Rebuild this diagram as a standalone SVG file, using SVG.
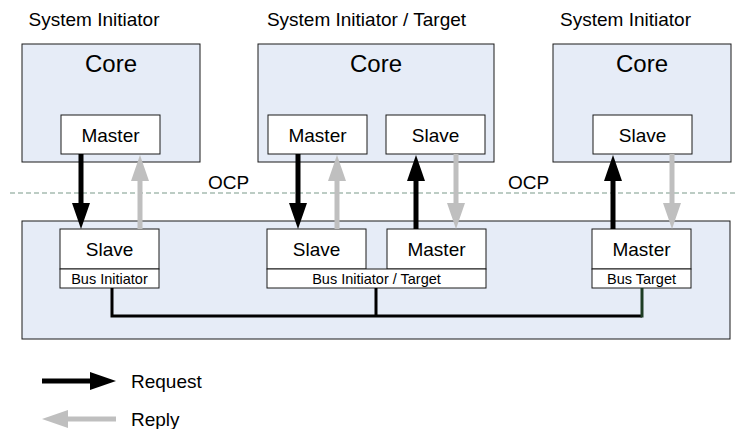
<svg xmlns="http://www.w3.org/2000/svg" width="736" height="429" viewBox="0 0 736 429">
  <style>
    .panel { fill: #e6ecf7; stroke: #1a1a1a; stroke-width: 1; }
    .box { fill: #ffffff; stroke: #1a1a1a; stroke-width: 1; }
    .t { font-family: "Liberation Sans", Arial, sans-serif; fill: #000; }
    .title { font-size: 19px; }
    .core { font-size: 24px; text-anchor: middle; }
    .lbl { font-size: 19px; text-anchor: middle; }
    .sub { font-size: 14.5px; text-anchor: middle; }
    .req { stroke: #000; stroke-width: 5; fill: none; marker-end: url(#headReq); }
    .rep { stroke: #bfbfbf; stroke-width: 5; fill: none; marker-end: url(#headRep); }
    .bus { stroke: #000; stroke-width: 3; fill: none; }
  </style>
  <defs>
    <marker id="headReq" viewBox="0 0 26 18" refX="0" refY="9" markerWidth="26" markerHeight="18" markerUnits="userSpaceOnUse" orient="auto">
      <path d="M0,0 L26,9 L0,18 Z" fill="#000"/>
    </marker>
    <marker id="headRep" viewBox="0 0 26 18" refX="0" refY="9" markerWidth="26" markerHeight="18" markerUnits="userSpaceOnUse" orient="auto">
      <path d="M0,0 L26,9 L0,18 Z" fill="#bfbfbf"/>
    </marker>
  </defs>

  <rect width="736" height="429" fill="#ffffff"/>

  <!-- OCP boundary -->
  <g id="ocp-boundary">
    <line x1="10" y1="193" x2="736" y2="193" stroke="#7b9a8a" stroke-width="1.2" stroke-dasharray="5,3"/>
    <text class="t title" x="208" y="189">OCP</text>
    <text class="t title" x="508" y="189">OCP</text>
  </g>

  <!-- Core 1: system initiator -->
  <g id="core-initiator">
    <text class="t title" x="94" y="26" text-anchor="middle">System Initiator</text>
    <rect class="panel" x="22" y="44" width="178" height="118"/>
    <text class="t core" x="111" y="72">Core</text>
    <rect class="box" x="61" y="115" width="99" height="39"/>
    <text class="t lbl" x="110.5" y="141.5">Master</text>
  </g>

  <!-- Core 2: system initiator / target -->
  <g id="core-initiator-target">
    <text class="t title" x="366.5" y="26" text-anchor="middle">System Initiator / Target</text>
    <rect class="panel" x="258" y="44" width="236" height="118"/>
    <text class="t core" x="376" y="72">Core</text>
    <rect class="box" x="268" y="115" width="99" height="39"/>
    <text class="t lbl" x="317.5" y="141.5">Master</text>
    <rect class="box" x="386" y="115" width="99" height="39"/>
    <text class="t lbl" x="435.5" y="141.5">Slave</text>
  </g>

  <!-- Core 3 -->
  <g id="core-target">
    <text class="t title" x="625.5" y="26" text-anchor="middle">System Initiator</text>
    <rect class="panel" x="553" y="44" width="178" height="118"/>
    <text class="t core" x="642" y="72">Core</text>
    <rect class="box" x="593" y="115" width="99" height="39"/>
    <text class="t lbl" x="642.5" y="141.5">Slave</text>
  </g>

  <!-- Bus -->
  <g id="bus">
    <rect class="panel" x="22" y="221" width="708" height="118"/>
  </g>

  <g id="bus-initiator">
    <rect class="box" x="60" y="229" width="99" height="40"/>
    <text class="t lbl" x="109.5" y="256">Slave</text>
    <rect class="box" x="60" y="269" width="99" height="19"/>
    <text class="t sub" x="109.5" y="283.5">Bus Initiator</text>
  </g>

  <g id="bus-initiator-target">
    <rect class="box" x="267" y="229" width="99" height="40"/>
    <text class="t lbl" x="316.5" y="256">Slave</text>
    <rect class="box" x="387" y="229" width="99" height="40"/>
    <text class="t lbl" x="436.5" y="256">Master</text>
    <rect class="box" x="267" y="269" width="219" height="19"/>
    <text class="t sub" x="376.5" y="283.5">Bus Initiator / Target</text>
  </g>

  <g id="bus-target">
    <rect class="box" x="592" y="229" width="99" height="40"/>
    <text class="t lbl" x="641.5" y="256">Master</text>
    <rect class="box" x="592" y="269" width="99" height="19"/>
    <text class="t sub" x="641.5" y="283.5">Bus Target</text>
  </g>

  <!-- Connectors -->
  <g id="connectors">
    <!-- internal bus wiring -->
    <path class="bus" d="M112,288 V316 H642"/>
    <line class="bus" x1="376" y1="288" x2="376" y2="316"/>
    <line x1="642" y1="288" x2="642" y2="317.5" stroke="#1e3d24" stroke-width="3"/>

    <!-- requests (black) and replies (grey) across OCP -->
    <line class="req" x1="81" y1="154" x2="81" y2="203"/>
    <line class="rep" x1="140" y1="229" x2="140" y2="181"/>
    <line class="req" x1="298" y1="154" x2="298" y2="203"/>
    <line class="rep" x1="337" y1="229" x2="337" y2="181"/>
    <line class="req" x1="416" y1="229" x2="416" y2="181"/>
    <line class="rep" x1="456" y1="154" x2="456" y2="203"/>
    <line class="req" x1="613" y1="229" x2="613" y2="181"/>
    <line class="rep" x1="672" y1="154" x2="672" y2="203"/>
  </g>

  <!-- Legend -->
  <g id="legend">
    <line class="req" x1="42" y1="381" x2="90" y2="381"/>
    <text class="t title" x="131" y="388">Request</text>
    <line class="rep" x1="116" y1="419" x2="68" y2="419"/>
    <text class="t title" x="131" y="426">Reply</text>
  </g>
</svg>
